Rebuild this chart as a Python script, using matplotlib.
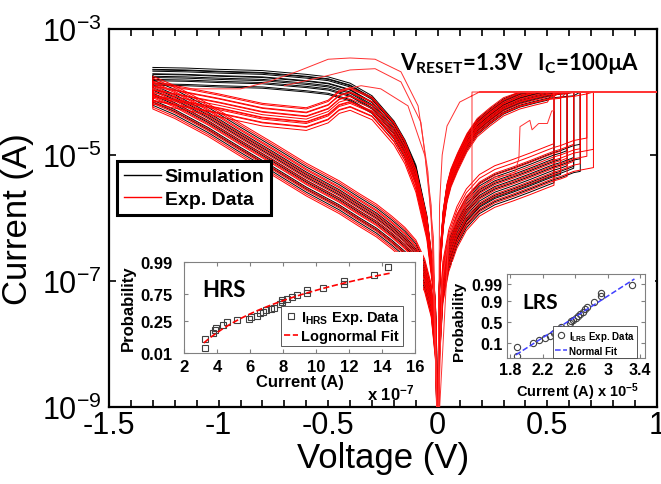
import numpy as np
import matplotlib.pyplot as plt
from matplotlib.lines import Line2D
from matplotlib.patches import Rectangle

plt.rcParams['font.family'] = ['Liberation Sans', 'DejaVu Sans']
plt.rcParams['mathtext.default'] = 'regular'
plt.rcParams['axes.unicode_minus'] = False

# compliance current during SET (A)
I_C = 100e-6

# ---------------- I-V sweeps, values are log10(current in A) ----------------
# negative sweep, low resistance branch (0 V -> -1.3 V)
v_lrs_neg = [-0.001, -0.01, -0.02, -0.05, -0.1, -0.15, -0.2, -0.3, -0.4, -0.45, -0.5, -0.6, -0.8, -1.0, -1.15, -1.3]
sim_lrs_neg = [-9.5, -7.6, -7.0, -6.1, -5.3, -4.9, -4.6, -4.2, -4.0, -3.95, -3.9, -3.86, -3.8, -3.78, -3.76, -3.75]
exp_lrs_neg = [-9.5, -7.6, -7.0, -6.15, -5.4, -4.95, -4.65, -4.25, -4.1, -4.15, -4.3, -4.42, -4.35, -4.2, -4.1, -4.0]

# negative sweep, high resistance branch after RESET (-1.3 V -> 0 V)
v_hrs_neg = [-1.3, -1.2, -1.05, -0.9, -0.75, -0.6, -0.45, -0.36, -0.28, -0.21, -0.15, -0.1, -0.06, -0.03, -0.01, -0.001]
hrs_neg = [-4.0, -4.15, -4.43, -4.75, -5.06, -5.38, -5.66, -5.86, -6.03, -6.22, -6.4, -6.6, -6.9, -7.3, -8.0, -9.5]

# positive sweep, high resistance branch up to SET
v_hrs_pos = [0.001, 0.008, 0.023, 0.05, 0.087, 0.13, 0.19, 0.26, 0.343, 0.42, 0.5, 0.53, 0.56, 0.59, 0.62, 0.65, 0.68, 0.71]
hrs_pos = [-9.5, -7.9, -7.0, -6.5, -6.13, -5.85, -5.62, -5.48, -5.38, -5.28, -5.17, -5.13, -5.1, -5.06, -5.02, -5.0, -4.98, -4.96]

# positive sweep, low resistance branch back to 0 V
v_lrs_pos = [0.71, 0.68, 0.65, 0.62, 0.59, 0.56, 0.53, 0.5, 0.44, 0.374, 0.3, 0.238, 0.18, 0.133, 0.09, 0.06, 0.042, 0.025, 0.012, 0.004, 0.001]
lrs_pos = [-3.9, -3.92, -3.94, -3.96, -3.97, -3.98, -3.99, -4.0, -4.05, -4.11, -4.22, -4.38, -4.55, -4.79, -5.1, -5.35, -5.59, -6.0, -6.6, -7.5, -9.5]

# cycle to cycle spread of each branch (decades) and SET voltages
sim_neg_lrs_shift = [-0.14, -0.12, -0.07, -0.05, -0.02, 0.0, 0.03, 0.04, 0.08, 0.1, 0.11, 0.14]
exp_neg_lrs_shift = [-0.19, -0.14, -0.13, -0.08, -0.06, -0.05, -0.01, 0.03, 0.04, 0.09, 0.1, 0.15, 0.17]
sim_neg_hrs_shift = [-0.21, -0.16, -0.13, -0.05, -0.02, 0.03, 0.07, 0.11, 0.19]
exp_neg_hrs_shift = [-0.27, -0.24, -0.18, -0.15, -0.09, -0.07, -0.03, 0.01, 0.05, 0.09, 0.14, 0.16, 0.22, 0.25]
sim_pos_hrs_shift = [-0.31, -0.26, -0.21, -0.16, -0.11, -0.06, -0.02, 0.03, 0.07, 0.13, 0.17, -0.19]
exp_pos_hrs_shift = [-0.35, -0.28, -0.24, -0.18, -0.14, -0.08, -0.04, 0.01, 0.05, 0.1, 0.16, 0.19, 0.25, 0.31]
sim_pos_lrs_shift = [-0.13, -0.1, -0.07, -0.055, -0.03, -0.015, 0.01, 0.02, 0.045, 0.07, 0.085, 0.11]
exp_pos_lrs_shift = [-0.16, -0.12, -0.11, -0.08, -0.05, -0.04, -0.02, 0.0, 0.03, 0.04, 0.06, 0.09, 0.1, 0.13]
sim_vset = [0.53, 0.65, 0.56, 0.62, 0.59, 0.65, 0.62, 0.56, 0.53, 0.59, 0.65, 0.62]
exp_vset = [0.53, 0.59, 0.71, 0.56, 0.65, 0.62, 0.68, 0.59, 0.71, 0.65, 0.56, 0.62, 0.68, 0.53]

# a few measured cycles that leave the main bundle
odd_neg_v = [[-0.001, -0.02, -0.045, -0.09, -0.168, -0.286, -0.4, -0.5, -0.638, -0.775, -0.9, -1.3],
             [-0.001, -0.03, -0.077, -0.168, -0.286, -0.4, -0.515, -0.7],
             [-0.001, -0.02, -0.058, -0.136, -0.26, -0.35, -0.45]]
odd_neg_i = [[-9.5, -6.6, -5.27, -4.22, -3.68, -3.48, -3.46, -3.48, -3.67, -3.84, -3.95, -3.95],
             [-9.5, -5.8, -4.48, -3.84, -3.63, -3.65, -3.75, -3.9],
             [-9.5, -6.3, -5.02, -4.22, -3.95, -3.9, -3.98]]
odd_pos_v = [[0.001, 0.02, 0.05, 0.1, 0.156, 0.156, 1.0, 0.19, 0.1, 0.042, 0.02, 0.008, 0.001],
             [0.001, 0.05, 0.13, 0.26, 0.35, 0.37, 0.375, 0.42, 0.43, 0.46, 0.5, 0.52, 0.53, 0.53]]
odd_pos_i = [[-9.5, -7.0, -6.3, -5.9, -5.7, -4.0, -4.0, -4.0, -4.16, -4.54, -5.0, -5.8, -9.5],
             [-9.5, -6.3, -5.7, -5.35, -5.3, -5.05, -4.55, -4.45, -4.6, -4.5, -4.5, -4.3, -4.3, -4.0]]

# ---------------- cumulative distributions (normal quantile z) ----------------
hrs_current = [3.27, 3.27, 3.74, 3.86, 3.92, 4.35, 4.59, 5.23, 5.94, 6.06, 6.41, 6.61, 6.77, 6.97, 7.25,
               7.47, 7.82, 7.92, 7.92, 8.22, 8.53, 8.87, 9.44, 9.44, 10.45, 11.72, 11.72, 13.53, 14.38]
hrs_z = [-2.07, -1.61, -1.33, -1.14, -1.03, -0.88, -0.76, -0.64, -0.58, -0.51, -0.41, -0.29, -0.21, -0.13, -0.08,
         -0.01, 0.18, 0.26, 0.39, 0.46, 0.54, 0.64, 0.76, 0.89, 1.01, 1.18, 1.38, 1.64, 2.09]
lrs_current = [1.88, 1.88, 2.08, 2.15, 2.23, 2.29, 2.34, 2.41, 2.42, 2.54, 2.55, 2.57, 2.61, 2.64, 2.66,
               2.70, 2.72, 2.74, 2.83, 2.92, 2.92, 3.30]
lrs_z = [-2.05, -1.55, -1.28, -1.10, -0.98, -0.83, -0.67, -0.47, -0.33, -0.08, 0.06, 0.14, 0.22, 0.35, 0.49,
         0.59, 0.79, 0.93, 1.24, 1.57, 1.75, 2.26]

# standard normal quantiles of the probability ticks
hrs_prob_labels = ['0.01', '0.25', '0.75', '0.99']
hrs_prob_z = [-2.326, -0.674, 0.674, 2.326]
lrs_prob_labels = ['0.1', '0.5', '0.9', '0.99']
lrs_prob_z = [-1.282, 0.0, 1.282, 2.326]

volt_ticks = [-1.5, -1, -0.5, 0, 0.5, 1]
volt_labels = ['-1.5', '-1', '-0.5', '0', '0.5', '1']
cur_ticks = [1e-9, 1e-7, 1e-5, 1e-3]
cur_labels = [r'$10^{-9}$', r'$10^{-7}$', r'$10^{-5}$', r'$10^{-3}$']

W, H = 661, 485
fig = plt.figure(figsize=(W / 100, H / 100), dpi=100)


def fig_rect(x0, y0, x1, y1):
    # pixel box (top-left origin) -> figure fraction rect
    return [x0 / W, 1 - y1 / H, (x1 - x0) / W, (y1 - y0) / H]


ax = fig.add_axes(fig_rect(109, 30, 657, 408))
LW = 0.7


def curve(v, logi, color, z=2):
    ax.plot(v, 10 ** np.asarray(logi, dtype=float), color=color, lw=LW, zorder=z)


def pos_hrs(shift, vset):
    v = [x for x in v_hrs_pos if x <= vset + 1e-9]
    li = list(np.array(hrs_pos[:len(v)]) + shift)
    return v + [vset], li + [np.log10(I_C)]


def pos_lrs(shift, vset):
    keep = [k for k, x in enumerate(v_lrs_pos) if x < vset - 1e-9]
    v = [vset] + [v_lrs_pos[k] for k in keep]
    li = [np.log10(I_C)] + [min(lrs_pos[k] + shift, np.log10(I_C)) for k in keep]
    return v, li


# simulated cycles (black) below the measured ones
for s in sim_neg_lrs_shift:
    curve(v_lrs_neg, np.array(sim_lrs_neg) + s, 'black')
for s in sim_neg_hrs_shift:
    curve([v_lrs_neg[-1]] + v_hrs_neg, [sim_lrs_neg[-1]] + list(np.array(hrs_neg) + s), 'black')
for s, vs in zip(sim_pos_hrs_shift, sim_vset):
    curve(*pos_hrs(s, vs), 'black')
for s, vs in zip(sim_pos_lrs_shift, sim_vset):
    curve(*pos_lrs(s, vs), 'black')

# measured cycles
for s in exp_neg_lrs_shift:
    curve(v_lrs_neg, np.array(exp_lrs_neg) + s, 'red', 3)
for s in exp_neg_hrs_shift:
    curve([v_lrs_neg[-1]] + v_hrs_neg, [exp_lrs_neg[-1]] + list(np.array(hrs_neg) + s), 'red', 3)
for s, vs in zip(exp_pos_hrs_shift, exp_vset):
    curve(*pos_hrs(s, vs), 'red', 3)
for s, vs in zip(exp_pos_lrs_shift, exp_vset):
    curve(*pos_lrs(s, vs), 'red', 3)
for v, li in zip(odd_neg_v + odd_pos_v, odd_neg_i + odd_pos_i):
    curve(v, li, '#ff3030', 3)

ax.set_yscale('log')
ax.set_xlim(-1.5, 1)
ax.set_ylim(1e-9, 1e-3)
ax.set_xticks(volt_ticks)
ax.set_xticklabels(volt_labels)
ax.set_xticks(np.arange(-1.5, 1.01, 0.1), minor=True)
ax.set_yticks(cur_ticks)
ax.set_yticklabels(cur_labels)
ax.yaxis.set_minor_locator(plt.NullLocator())
ax.tick_params(which='both', direction='in', top=True, right=True, width=1.2, length=5)
ax.tick_params(axis='x', labelsize=22, pad=2)
ax.tick_params(axis='y', labelsize=22, pad=5)
for sp in ax.spines.values():
    sp.set_linewidth(1.6)
ax.set_xlabel('Voltage (V)', fontsize=25)
ax.set_ylabel('Current (A)', fontsize=25)
ax.xaxis.set_label_coords(0.5, -0.09)
ax.yaxis.set_label_coords(-0.137, 0.5)

leg = ax.legend([Line2D([], [], color='black', lw=1), Line2D([], [], color='red', lw=1)],
                ['Simulation', 'Exp. Data'], loc='upper left', bbox_to_anchor=(0.0146, 0.651),
                borderaxespad=0, fancybox=False, framealpha=1, edgecolor='black',
                prop={'weight': 'bold', 'size': 14}, handlelength=1.9, handletextpad=0.2,
                labelspacing=0.25, borderpad=0.35)
leg.get_frame().set_linewidth(2.2)
leg.set_zorder(10)

fig.text(400 / W, 1 - 63 / H, r'$V_{RESET}$=1.3V   $I_C$=100µA', family='Lato',
         weight='bold', fontsize=16, va='center', ha='left')

# white panels behind the two distributions
for x0, y0, x1, y1 in [(120, 253, 423, 400), (452, 263, 655, 400)]:
    fig.patches.append(Rectangle((x0 / W, 1 - y1 / H), (x1 - x0) / W, (y1 - y0) / H,
                                 transform=fig.transFigure, facecolor='white',
                                 edgecolor='none', zorder=1.5))

GRAY = '#808080'


def style_inset(a, labelsize):
    for sp in a.spines.values():
        sp.set_color(GRAY)
        sp.set_linewidth(0.8)
    a.tick_params(direction='in', top=True, right=True, length=3, color=GRAY,
                  labelsize=labelsize)
    for t in a.get_xticklabels() + a.get_yticklabels():
        t.set_fontweight('bold')


# HRS distribution (lognormal)
ax_h = fig.add_axes(fig_rect(184, 263, 415, 354), zorder=3)
ax_h.plot(hrs_current, hrs_z, 's', mfc='none', mec='#404040', ms=5, mew=0.8,
          label=r'$I_{HRS}$ Exp. Data')
a, b = np.polyfit(np.log(hrs_current), hrs_z, 1)
xf = np.linspace(3.2, 14.6, 100)
ax_h.plot(xf, a * np.log(xf) + b, '--', color='red', lw=1.2, label='Lognormal Fit')
ax_h.set_xlim(2, 16)
ax_h.set_ylim(-2.33, 2.33)
ax_h.set_xticks(range(2, 17, 2))
ax_h.set_yticks(hrs_prob_z)
ax_h.set_yticklabels(hrs_prob_labels)
ax_h.tick_params(axis='x', pad=4)
ax_h.tick_params(axis='y', pad=8)
style_inset(ax_h, 12)
ax_h.set_ylabel('Probability', fontsize=12, weight='bold')
ax_h.yaxis.set_label_coords(-0.21, 0.5)
ax_h.set_xlabel('Current (A)', fontsize=12, weight='bold', labelpad=0)
ax_h.text(0.08, 0.7, 'HRS', transform=ax_h.transAxes, family='Lato', weight='bold',
          fontsize=16, va='center', ha='left')
lg = ax_h.legend(loc='lower right', bbox_to_anchor=(0.948, 0.077), borderaxespad=0,
                 fancybox=False, framealpha=1, edgecolor='#404040',
                 prop={'weight': 'bold', 'size': 10.5}, handlelength=1.0,
                 handletextpad=0.2, labelspacing=0.2, borderpad=0.2)
lg.get_frame().set_linewidth(0.6)
fig.text(367 / W, 1 - 393 / H, r'x $10^{-7}$', fontsize=12, weight='bold', va='center', ha='left')

# LRS distribution (normal)
ax_l = fig.add_axes(fig_rect(507, 275, 645, 359), zorder=3)
ax_l.plot(lrs_current, lrs_z, 'o', mfc='none', mec='#404040', ms=4.5, mew=0.8,
          label=r'$I_{LRS}$ Exp. Data')
c, d = np.polyfit(lrs_current, lrs_z, 1)
xf = np.linspace(1.87, 3.33, 50)
ax_l.plot(xf, c * xf + d, '--', color='#4040ff', lw=1.1, label='Normal Fit')
ax_l.set_xlim(1.76, 3.46)
ax_l.set_ylim(-2.2, 2.93)
ax_l.set_xticks([1.8, 2.2, 2.6, 3.0, 3.4])
ax_l.set_xticklabels(['1.8', '2.2', '2.6', '3', '3.4'])
ax_l.set_yticks(lrs_prob_z)
ax_l.set_yticklabels(lrs_prob_labels)
ax_l.tick_params(axis='x', pad=3)
ax_l.tick_params(axis='y', pad=3)
style_inset(ax_l, 11.5)
ax_l.set_ylabel('Probability', fontsize=11, weight='bold')
ax_l.yaxis.set_label_coords(-0.3, 0.45)
ax_l.text(0.11, 0.67, 'LRS', transform=ax_l.transAxes, family='Lato', weight='bold',
          fontsize=15, va='center', ha='left')
lg2 = ax_l.legend(loc='lower right', bbox_to_anchor=(0.945, 0.0), borderaxespad=0,
                  fancybox=False, framealpha=1, edgecolor='#404040',
                  prop={'weight': 'bold', 'size': 7}, handlelength=1.2,
                  handletextpad=0.2, labelspacing=0.3, borderpad=0.25)
lg2.get_frame().set_linewidth(0.6)
fig.text(578 / W, 1 - 392 / H, r'Current (A) x $10^{-5}$', fontsize=10.5, weight='bold',
         va='center', ha='center')

fig.savefig('out.png', dpi=100)
